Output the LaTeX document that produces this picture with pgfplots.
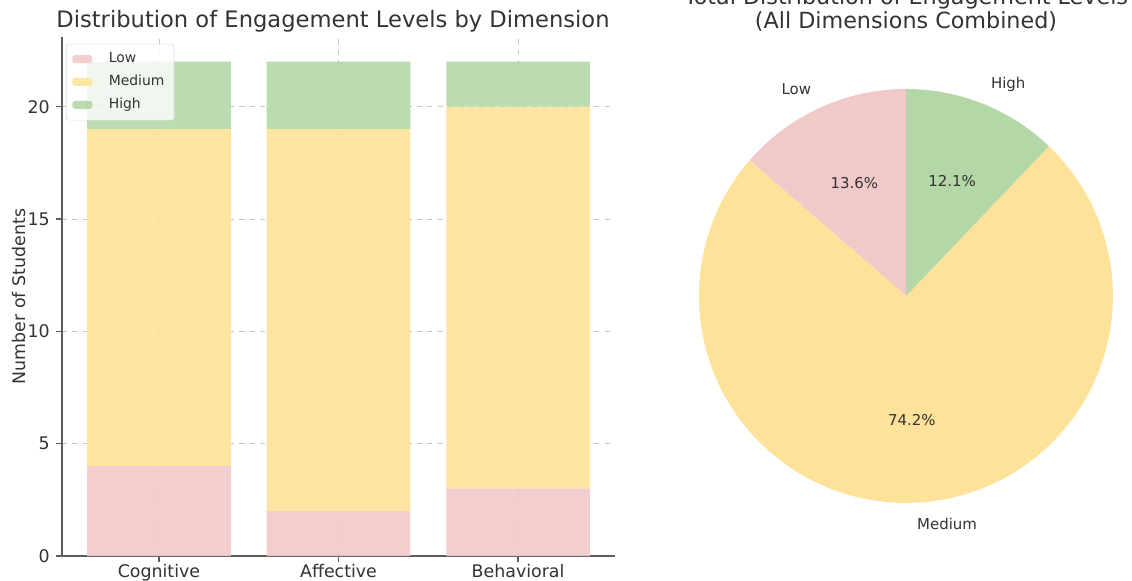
\documentclass[border=0pt]{standalone}
\usepackage{pgfplots}
\usepackage{pgfplotstable}
\pgfplotsset{compat=1.18}
\usepackage{fontspec}
\setmainfont{DejaVu Sans}

\definecolor{lowc}{HTML}{F2C9C9}
\definecolor{medc}{HTML}{FEE29A}
\definecolor{highc}{HTML}{B4D7A8}
\definecolor{txt}{HTML}{333333}

% counts per dimension
\pgfplotstableread{
idx dim        Low Medium High
0   Cognitive  4   15     3
1   Affective  2   17     3
2   Behavioral 3   17     2
}\engage

% totals over all dimensions (pie)
\def\pLow{9}
\def\pMed{49}
\def\pHigh{8}

\newcommand\pct[1]{\pgfmathprintnumber[fixed,fixed zerofill,precision=1,assume math mode=true]{#1}\%}

\begin{document}
\begin{tikzpicture}[x=0.575pt,y=0.575pt]
\pgfmathsetmacro\tot{\pLow+\pMed+\pHigh}
\pgfmathsetmacro\aA{90}
\pgfmathsetmacro\aB{\aA+360/\tot*\pLow}
\pgfmathsetmacro\aC{\aB+360/\tot*\pMed}
\pgfmathsetmacro\aD{\aC+360/\tot*\pHigh}
\pgfmathsetmacro\mA{(\aA+\aB)/2}
\pgfmathsetmacro\mB{(\aB+\aC)/2}
\pgfmathsetmacro\mC{(\aC+\aD)/2}
\pgfmathsetmacro\qA{100/\tot*\pLow}
\pgfmathsetmacro\qB{100/\tot*\pMed}
\pgfmathsetmacro\qC{100/\tot*\pHigh}

% ---- stacked bars ----
\begin{axis}[
    at={(35.65pt,13.8pt)}, anchor=south west,
    scale only axis, width=318pt, height=298.4pt,
    ybar stacked, bar width=0.8,
    xmin=-0.54, xmax=2.54, ymin=0, ymax=23.1,
    xtick=data, xticklabels from table={\engage}{dim},
    ytick={0,5,10,15,20},
    axis x line*=bottom, axis y line*=left,
    axis line style={draw=txt!80, line width=0.8pt},
    tick style={draw=txt!80, line width=0.8pt},
    tick align=outside, major tick length=3.5pt,
    ticklabel style={font=\fontsize{10}{12}\selectfont, text=txt},
    xticklabel style={yshift=2.5pt},
    /pgf/number format/assume math mode=true,
    ylabel={Number of Students},
    ylabel style={font=\fontsize{10}{12}\selectfont, text=txt, yshift=-6pt},
    grid=major, grid style={draw=gray!45, dashed, line width=0.4pt},
    legend cell align=left,
    legend style={at={(0.007,0.987)}, anchor=north west,
      font=\fontsize{8}{10}\selectfont, text=txt,
      draw=gray!25, fill=white, fill opacity=0.8, text opacity=1,
      rounded corners=1.5pt, row sep=1.6pt, inner xsep=3.5pt, inner ysep=3pt},
    legend image code/.code={\fill[#1] (0pt,-2.3pt) rectangle (11.5pt,2.3pt); \path (0pt,0pt) -- (19pt,0pt);},
    every axis plot/.append style={draw=none, fill opacity=0.9},
]
\addplot+[fill=lowc] table[x=idx, y=Low] {\engage};
\addplot+[fill=medc] table[x=idx, y=Medium] {\engage};
\addplot+[fill=highc] table[x=idx, y=High] {\engage};
\legend{Low,Medium,High}
\end{axis}

\node[anchor=base, text=txt, font=\fontsize{13}{15}\selectfont] at (333,552) {Distribution of Engagement Levels by Dimension};

% ---- pie ----
\begin{axis}[
    at={(520.95pt,163.3pt)}, anchor=center,
    scale only axis, width=297.6pt, height=297.6pt,
    xmin=-1.25, xmax=1.25, ymin=-1.25, ymax=1.25,
    hide axis, clip=false,
]
\fill[lowc]  (axis cs:0,0) -- (axis cs:{cos(\aA)},{sin(\aA)}) arc[start angle=\aA, end angle=\aB, radius=119pt] -- cycle;
\fill[medc]  (axis cs:0,0) -- (axis cs:{cos(\aB)},{sin(\aB)}) arc[start angle=\aB, end angle=\aC, radius=119pt] -- cycle;
\fill[highc] (axis cs:0,0) -- (axis cs:{cos(\aC)},{sin(\aC)}) arc[start angle=\aC, end angle=\aD, radius=119pt] -- cycle;
\begin{scope}[every node/.style={text=txt, font=\fontsize{8.6}{10}\selectfont}]
\node[anchor=east, inner xsep=0pt] at (axis cs:{1.1*cos(\mA)},{1.1*sin(\mA)}) {Low};
\node[anchor=west, inner xsep=0pt] at (axis cs:{1.1*cos(\mB)},{1.1*sin(\mB)}) {Medium};
\node[anchor=west, inner xsep=0pt] at (axis cs:{1.1*cos(\mC)},{1.1*sin(\mC)}) {High};
\node at (axis cs:{0.6*cos(\mA)},{0.6*sin(\mA)}) {\pct{\qA}};
\node at (axis cs:{0.6*cos(\mB)},{0.6*sin(\mB)}) {\pct{\qB}};
\node at (axis cs:{0.6*cos(\mC)},{0.6*sin(\mC)}) {\pct{\qC}};
\end{scope}
\end{axis}

\node[anchor=base, text=txt, font=\fontsize{12.8}{15}\selectfont] at (906,575) {Total Distribution of Engagement Levels};
\node[anchor=base, text=txt, font=\fontsize{12.8}{15}\selectfont] at (906,551) {(All Dimensions Combined)};

\pgfresetboundingbox
\path[use as bounding box] (0,0) rectangle (1132,580);
\end{tikzpicture}
\end{document}
